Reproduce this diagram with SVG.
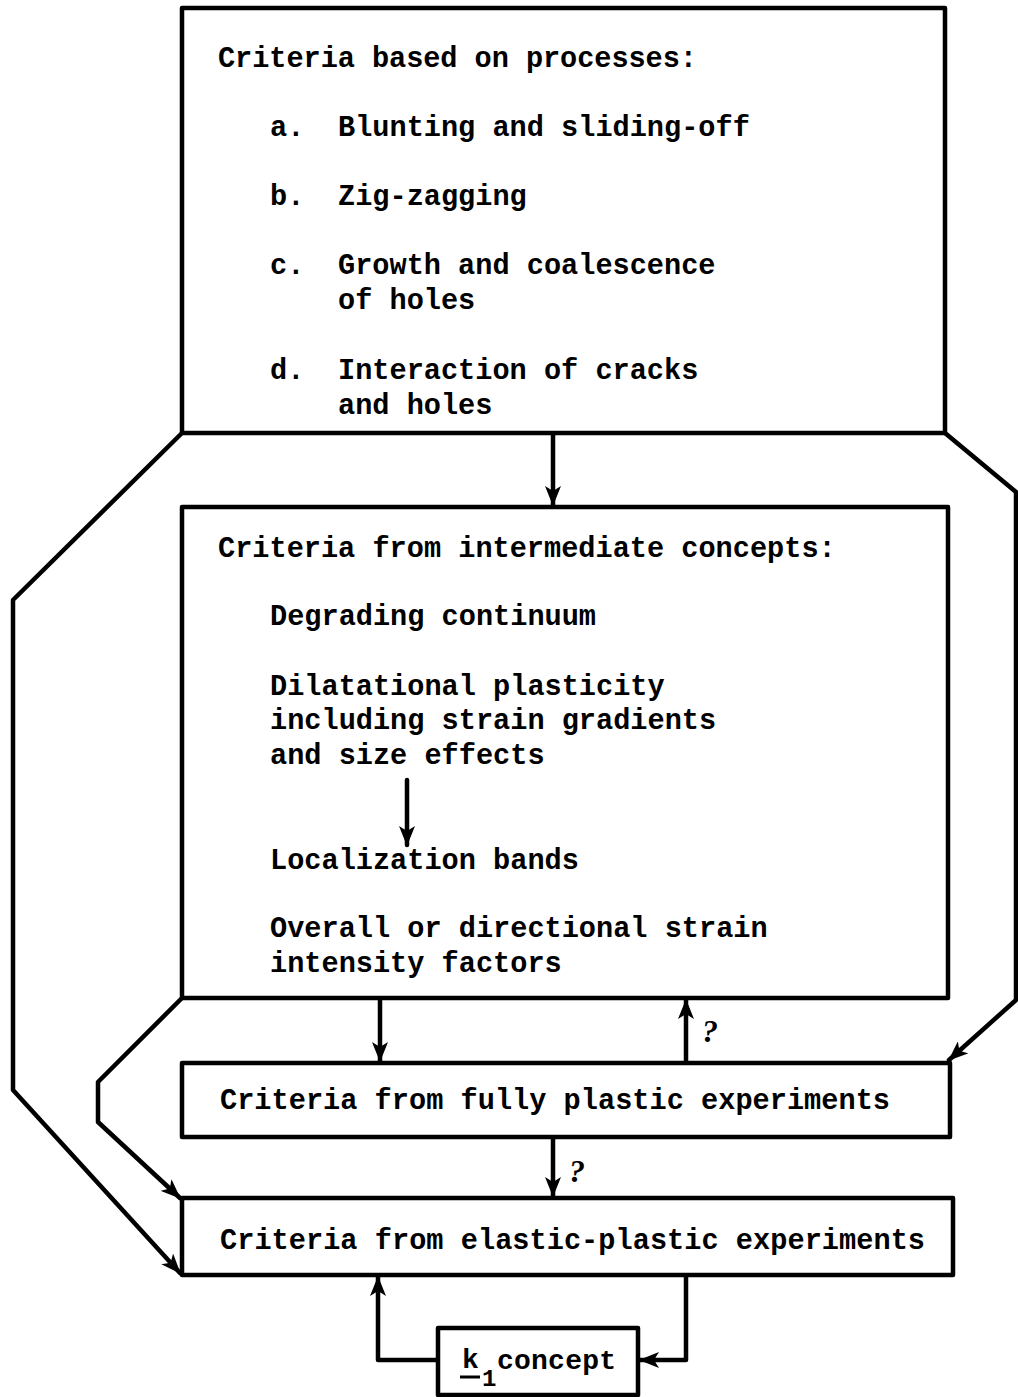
<svg xmlns="http://www.w3.org/2000/svg" width="1018" height="1397" viewBox="0 0 1018 1397">
<style>
.box{fill:none;stroke:#000;stroke-width:4.5;stroke-linejoin:round}
.ln{fill:none;stroke:#000;stroke-width:4.5;stroke-linejoin:round;stroke-linecap:round}
text{font-family:"Liberation Mono","DejaVu Sans Mono",monospace;font-size:28.6px;font-weight:bold;fill:#000}
.q{font-family:"Liberation Serif",serif;font-style:italic;font-weight:bold;font-size:32px}
</style>
<defs>
<marker id="ah" viewBox="0 0 20 16" refX="19" refY="8" markerWidth="20" markerHeight="16" markerUnits="userSpaceOnUse" orient="auto">
<path d="M0,0 L20,8 L0,16 L5,8 Z" fill="#000"/>
</marker>
</defs>
<rect width="1018" height="1397" fill="#fff"/>
<g id="connectors">
<line class="ln" x1="553" y1="435" x2="553" y2="505" marker-end="url(#ah)"/>
<polyline class="ln" points="182,433 13,600 13,1090 180,1273" marker-end="url(#ah)"/>
<polyline class="ln" points="182,998 98,1082 98,1122 180,1198" marker-end="url(#ah)"/>
<polyline class="ln" points="945,433 1016,492 1016,1000 949,1060" marker-end="url(#ah)"/>
<line class="ln" x1="407" y1="780" x2="407" y2="845" marker-end="url(#ah)"/>
<line class="ln" x1="380" y1="1000" x2="380" y2="1061" marker-end="url(#ah)"/>
<line class="ln" x1="686" y1="1061" x2="686" y2="1000" marker-end="url(#ah)"/>
<line class="ln" x1="553" y1="1139" x2="553" y2="1196" marker-end="url(#ah)"/>
<polyline class="ln" points="437,1360 378,1360 378,1277" marker-end="url(#ah)"/>
<polyline class="ln" points="686,1277 686,1360 640,1360" marker-end="url(#ah)"/>
<text class="q" x="702" y="1042">?</text>
<text class="q" x="569" y="1182">?</text>
</g>
<g id="processes">
<rect class="box" x="182" y="8" width="763" height="425"/>
<text x="218" y="67" textLength="479" lengthAdjust="spacing">Criteria based on processes:</text>
<text x="270" y="136">a.</text><text x="338" y="136">Blunting and sliding-off</text>
<text x="270" y="205">b.</text><text x="338" y="205">Zig-zagging</text>
<text x="270" y="274">c.</text><text x="338" y="274">Growth and coalescence</text>
<text x="338" y="309">of holes</text>
<text x="270" y="379">d.</text><text x="338" y="379">Interaction of cracks</text>
<text x="338" y="414">and holes</text>
</g>
<g id="intermediate">
<rect class="box" x="182" y="507" width="766" height="491"/>
<text x="218" y="557">Criteria from intermediate concepts:</text>
<text x="270" y="625">Degrading continuum</text>
<text x="270" y="695">Dilatational plasticity</text>
<text x="270" y="729">including strain gradients</text>
<text x="270" y="764">and size effects</text>
<text x="270" y="869">Localization bands</text>
<text x="270" y="937">Overall or directional strain</text>
<text x="270" y="972">intensity factors</text>
</g>
<g id="fully-plastic">
<rect class="box" x="182" y="1063" width="768" height="74"/>
<text x="220" y="1109" textLength="670" lengthAdjust="spacing">Criteria from fully plastic experiments</text>
</g>
<g id="elastic-plastic">
<rect class="box" x="182" y="1198" width="771" height="77"/>
<text x="220" y="1249" textLength="705" lengthAdjust="spacing">Criteria from elastic-plastic experiments</text>
</g>
<g id="k1">
<rect class="box" x="438" y="1328" width="200" height="67"/>
<text x="462" y="1368" style="font-size:28px">k</text>
<line x1="460" y1="1377" x2="480" y2="1377" stroke="#000" stroke-width="3"/>
<text x="482" y="1386" style="font-size:24px">1</text>
<text x="497" y="1369" style="font-size:28px" textLength="119" lengthAdjust="spacing">concept</text>
</g>
</svg>
